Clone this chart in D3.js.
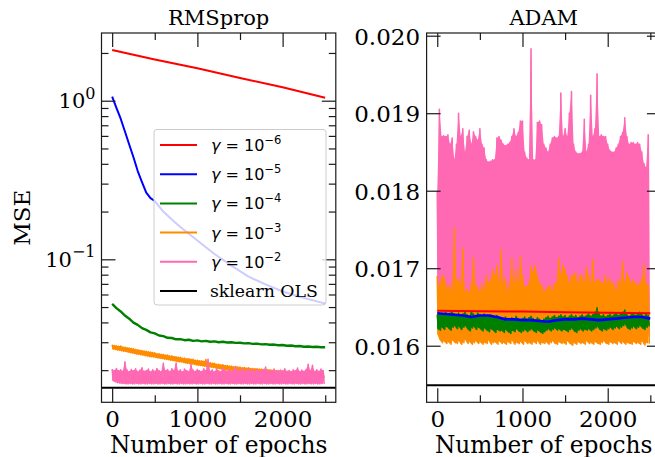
<!DOCTYPE html>
<html><head><meta charset="utf-8">
<script src="https://cdn.jsdelivr.net/npm/d3@7/dist/d3.min.js"></script>
<style>body{margin:0;background:#fff}svg{display:block}</style>
</head><body>
<svg id="c" width="655" height="457"></svg>
<script>
// ---------------- DATA ----------------
const titles = ["RMSprop", "ADAM"];
const legendLabels = ["-6", "-5", "-4", "-3", "-2"]; // exponents of gamma
const olsLabel = "sklearn OLS";
const colors = ["#ff0000", "#0000ff", "#008000", "#ff8c00", "#ff69b4"];
const xMajorTicks = [0, 1000, 2000];
const xMinorTicks = [500, 1500, 2500];
const yLogMajor = [1, 0.1];
const yLogMinor = [0.02,0.03,0.04,0.05,0.06,0.07,0.08,0.09,0.2,0.3,0.4,0.5,0.6,0.7,0.8,0.9,2];
const yLinTicks = [0.016, 0.017, 0.018, 0.019, 0.020];
const yLinLabels = ["0.016", "0.017", "0.018", "0.019", "0.020"];
const olsMSE = 0.01549;

// noisy series are given as upper / lower samples every 25 epochs
const epochs25 = d3.range(0, 2500, 25);

// RMSprop
const rmsRedEpochs = [0, 500, 1000, 1500, 2000, 2499];
const rmsRed = [2.09, 1.82, 1.60, 1.39, 1.215, 1.045];
const rmsBlueEpochs = [0,50,100,150,200,250,300,350,400,450,500,600,700,800,900,1000,1200,1400,1600,1800,2000,2200,2400,2499];
const rmsBlue = [1.06,0.90,0.77,0.64,0.53,0.44,0.36,0.307,0.263,0.243,0.233,0.200,0.178,0.160,0.145,0.1315,0.108,0.0912,0.0777,0.0695,0.0627,0.058,0.0543,0.0527];
const rmsGreenEpochs = [0,50,100,150,200,250,300,350,400,450,500,550,600,650,700,750,800,850,900,950,1000,1050,1100,1150,1200,1250,1300,1350,1400,1450,1500,1550,1600,1650,1700,1750,1800,1850,1900,1950,2000,2050,2100,2150,2200,2250,2300,2350,2400,2450,2499];
const rmsGreen = [0.0523,0.0492,0.0469,0.0442,0.0422,0.0399,0.0386,0.0368,0.0359,0.0346,0.0341,0.0331,0.0328,0.0320,0.0319,0.0313,0.0314,0.0309,0.0311,0.0306,0.0308,0.0304,0.0306,0.0302,0.0304,0.0300,0.0302,0.0299,0.0300,0.0297,0.0298,0.0295,0.0296,0.0293,0.0294,0.0291,0.0292,0.0289,0.0290,0.0287,0.0288,0.0285,0.0286,0.0283,0.0284,0.0281,0.0282,0.0280,0.0281,0.0279,0.0279];
const rmsOrangeHi = [
 0.0289,0.0286,0.0285,0.0283,0.0284,0.0280,0.0279,0.0277,0.0276,0.0274,
 0.0273,0.0270,0.0269,0.0267,0.0266,0.0264,0.0263,0.0261,0.0260,0.0258,
 0.0257,0.0254,0.0254,0.0252,0.0251,0.0249,0.0249,0.0246,0.0246,0.0244,
 0.0243,0.0241,0.0241,0.0238,0.0238,0.0236,0.0236,0.0234,0.0234,0.0231,
 0.0231,0.0229,0.0229,0.0227,0.0233,0.0223,0.0223,0.0221,0.0221,0.0218,
 0.0218,0.0216,0.0216,0.0214,0.0214,0.0212,0.0212,0.0210,0.0211,0.0209,
 0.0209,0.0207,0.0208,0.0206,0.0207,0.0205,0.0205,0.0204,0.0204,0.0203,
 0.0203,0.0202,0.0202,0.0201,0.0201,0.0200,0.0200,0.0199,0.0199,0.0198,
 0.0198,0.0197,0.0197,0.0196,0.0196,0.0195,0.0196,0.0194,0.0195,0.0193,
 0.0194,0.0193,0.0193,0.0192,0.0192,0.0191,0.0192,0.0190,0.0191,0.0190];
const rmsOrangeLo = [
 0.0272,0.0270,0.0268,0.0267,0.0265,0.0263,0.0262,0.0260,0.0258,0.0257,
 0.0255,0.0253,0.0252,0.0250,0.0249,0.0247,0.0246,0.0244,0.0243,0.0242,
 0.0241,0.0239,0.0238,0.0237,0.0235,0.0234,0.0233,0.0231,0.0230,0.0229,
 0.0227,0.0226,0.0225,0.0224,0.0222,0.0221,0.0220,0.0219,0.0218,0.0216,
 0.0215,0.0214,0.0213,0.0212,0.0210,0.0210,0.0209,0.0208,0.0207,0.0205,
 0.0204,0.0203,0.0202,0.0201,0.0200,0.0199,0.0198,0.0198,0.0197,0.0196,
 0.0196,0.0195,0.0194,0.0194,0.0193,0.0192,0.0192,0.0191,0.0191,0.0190,
 0.0190,0.0189,0.0189,0.0188,0.0188,0.0187,0.0187,0.0186,0.0186,0.0185,
 0.0185,0.0184,0.0184,0.0184,0.0183,0.0183,0.0182,0.0182,0.0182,0.0181,
 0.0181,0.0181,0.0180,0.0180,0.0180,0.0179,0.0179,0.0179,0.0178,0.0178];
const rmsPinkHi = [
 0.0203,0.0199,0.0205,0.0198,0.0201,0.0197,0.0226,0.0200,0.0196,0.0202,
 0.0198,0.0204,0.0196,0.0200,0.0207,0.0197,0.0199,0.0203,0.0195,0.0201,
 0.0197,0.0205,0.0199,0.0196,0.0221,0.0198,0.0202,0.0196,0.0204,0.0199,
 0.0222,0.0197,0.0201,0.0195,0.0203,0.0199,0.0196,0.0218,0.0200,0.0197,
 0.0202,0.0198,0.0196,0.0204,0.0199,0.0234,0.0197,0.0201,0.0195,0.0203,
 0.0198,0.0196,0.0206,0.0199,0.0197,0.0202,0.0195,0.0200,0.0211,0.0197,
 0.0199,0.0203,0.0196,0.0198,0.0205,0.0197,0.0200,0.0195,0.0202,0.0198,
 0.0196,0.0201,0.0209,0.0197,0.0199,0.0195,0.0203,0.0198,0.0196,0.0200,
 0.0197,0.0204,0.0196,0.0199,0.0195,0.0201,0.0198,0.0206,0.0196,0.0200,
 0.0197,0.0202,0.0218,0.0198,0.0215,0.0196,0.0201,0.0197,0.0203,0.0199];
const rmsPinkLo = [
 0.0172,0.0169,0.0167,0.0166,0.0165,0.0165,0.0164,0.0164,0.0165,0.0164,
 0.0164,0.0165,0.0164,0.0164,0.0165,0.0164,0.0164,0.0165,0.0164,0.0164,
 0.0165,0.0164,0.0164,0.0165,0.0164,0.0164,0.0165,0.0164,0.0164,0.0165,
 0.0164,0.0164,0.0165,0.0164,0.0164,0.0165,0.0164,0.0164,0.0165,0.0164,
 0.0164,0.0165,0.0164,0.0164,0.0165,0.0164,0.0164,0.0165,0.0164,0.0164,
 0.0165,0.0164,0.0164,0.0165,0.0164,0.0164,0.0165,0.0164,0.0164,0.0165,
 0.0164,0.0164,0.0165,0.0164,0.0164,0.0165,0.0164,0.0164,0.0165,0.0164,
 0.0164,0.0165,0.0164,0.0164,0.0165,0.0164,0.0164,0.0165,0.0164,0.0164,
 0.0165,0.0164,0.0164,0.0165,0.0164,0.0164,0.0165,0.0164,0.0164,0.0165,
 0.0164,0.0164,0.0165,0.0164,0.0164,0.0165,0.0164,0.0164,0.0165,0.0164];

// ADAM
const adamRedEpochs = [0, 500, 1000, 1500, 2000, 2499];
const adamRed = [0.01645, 0.016445, 0.01644, 0.016433, 0.016427, 0.01642];
const adamBlueEpochs = [0,100,200,300,400,500,600,700,800,900,1000,1100,1200,1300,1400,1500,1600,1700,1800,1900,2000,2100,2200,2300,2400,2499];
const adamBlue = [0.01642,0.01641,0.01640,0.01639,0.01637,0.01639,0.01639,0.01637,0.01634,0.01634,0.01633,0.01633,0.01632,0.01631,0.01633,0.01634,0.01634,0.01635,0.01634,0.01633,0.01634,0.01635,0.01636,0.01637,0.01637,0.01635];
const adamGreenHi = [
 0.01640,0.01642,0.01641,0.01639,0.01643,0.01640,0.01642,0.01644,0.01641,0.01640,
 0.01642,0.01639,0.01641,0.01643,0.01640,0.01638,0.01644,0.01641,0.01639,0.01642,
 0.01640,0.01638,0.01641,0.01639,0.01637,0.01640,0.01638,0.01636,0.01639,0.01635,
 0.01636,0.01634,0.01637,0.01635,0.01633,0.01636,0.01634,0.01638,0.01635,0.01633,
 0.01635,0.01637,0.01634,0.01636,0.01638,0.01635,0.01633,0.01636,0.01634,0.01632,
 0.01634,0.01636,0.01638,0.01635,0.01637,0.01639,0.01636,0.01638,0.01640,0.01637,
 0.01639,0.01636,0.01638,0.01640,0.01637,0.01639,0.01636,0.01638,0.01640,0.01637,
 0.01639,0.01641,0.01638,0.01640,0.01643,0.01649,0.01641,0.01638,0.01640,0.01637,
 0.01639,0.01641,0.01638,0.01640,0.01642,0.01639,0.01641,0.01643,0.01646,0.01640,
 0.01638,0.01640,0.01642,0.01639,0.01641,0.01643,0.01640,0.01638,0.01641,0.01639];
const adamGreenLo = [
 0.01622,0.01620,0.01624,0.01621,0.01625,0.01623,0.01620,0.01624,0.01626,0.01622,
 0.01625,0.01621,0.01624,0.01626,0.01622,0.01619,0.01623,0.01625,0.01621,0.01624,
 0.01622,0.01619,0.01623,0.01620,0.01618,0.01622,0.01620,0.01617,0.01621,0.01619,
 0.01620,0.01617,0.01621,0.01618,0.01616,0.01620,0.01618,0.01622,0.01619,0.01617,
 0.01619,0.01621,0.01618,0.01620,0.01622,0.01619,0.01617,0.01620,0.01618,0.01616,
 0.01618,0.01620,0.01622,0.01619,0.01621,0.01623,0.01620,0.01622,0.01619,0.01621,
 0.01620,0.01618,0.01621,0.01623,0.01619,0.01617,0.01620,0.01622,0.01619,0.01621,
 0.01620,0.01622,0.01619,0.01621,0.01623,0.01625,0.01621,0.01619,0.01622,0.01620,
 0.01622,0.01624,0.01621,0.01623,0.01625,0.01622,0.01624,0.01626,0.01628,0.01623,
 0.01621,0.01623,0.01625,0.01622,0.01624,0.01626,0.01623,0.01621,0.01624,0.01625];
const adamOrangeHi = [
 0.0169,0.01675,0.01687,0.01691,0.0168,0.01672,0.0168,0.0167,0.01752,0.01685,
 0.01685,0.01678,0.01726,0.0167,0.01672,0.01668,0.0168,0.01713,0.01676,0.01676,
 0.01668,0.0168,0.01672,0.01691,0.0168,0.01685,0.01698,0.0169,0.01704,0.0168,
 0.01724,0.0168,0.01687,0.0167,0.0168,0.01713,0.0168,0.01698,0.0168,0.01715,
 0.0169,0.01676,0.01676,0.0168,0.01702,0.01694,0.01704,0.0169,0.0168,0.01678,
 0.0167,0.01672,0.01676,0.01678,0.0167,0.0168,0.0168,0.01713,0.0169,0.01704,
 0.01698,0.0169,0.0168,0.0169,0.01691,0.01694,0.0168,0.0169,0.01691,0.0168,
 0.01702,0.0169,0.0168,0.01711,0.0168,0.01685,0.01685,0.01682,0.0168,0.01691,
 0.0168,0.01687,0.0168,0.0168,0.0167,0.01685,0.0168,0.01709,0.0168,0.01694,
 0.01687,0.01681,0.01685,0.0168,0.01678,0.0168,0.01685,0.01704,0.0168,0.01678];
const adamOrangeLo = [
 0.01615,0.01608,0.01604,0.01606,0.01603,0.01605,0.01602,0.01607,0.01604,0.01603,
 0.01606,0.01602,0.01604,0.01608,0.01603,0.01605,0.01602,0.01604,0.01606,0.01603,
 0.01605,0.01602,0.01604,0.01603,0.01607,0.01602,0.01604,0.01605,0.01602,0.01606,
 0.01603,0.01604,0.01602,0.01605,0.01603,0.01607,0.01602,0.01604,0.01603,0.01605,
 0.01602,0.01606,0.01603,0.01604,0.01602,0.01605,0.01603,0.01606,0.01602,0.01604,
 0.01603,0.01605,0.01602,0.01604,0.01606,0.01603,0.01602,0.01605,0.01603,0.01604,
 0.01602,0.01606,0.01603,0.01601,0.01604,0.01602,0.01605,0.01603,0.01604,0.01602,
 0.01606,0.01603,0.01604,0.01602,0.01605,0.01603,0.01602,0.01604,0.01606,0.01603,
 0.01602,0.01605,0.01603,0.01604,0.01602,0.01606,0.01603,0.01605,0.01602,0.01604,
 0.01603,0.01602,0.01605,0.01603,0.01604,0.01602,0.01606,0.01601,0.01604,0.01603];
const adamPinkHi = [
 0.0180,0.01905,0.0187,0.01871,0.0187,0.01872,0.0186,0.01868,0.0184,0.0186,
 0.0190,0.0187,0.0188,0.0185,0.0187,0.01878,0.0186,0.01876,0.0187,0.01865,
 0.0188,0.0186,0.01855,0.0184,0.01837,0.01838,0.0184,0.0184,0.01868,0.0187,
 0.01865,0.0186,0.01858,0.0186,0.01862,0.0187,0.0188,0.0187,0.01875,0.0189,
 0.0189,0.0185,0.01842,0.0184,0.01983,0.0184,0.0184,0.01888,0.0189,0.01885,
 0.0186,0.01855,0.0185,0.0186,0.01868,0.0187,0.01868,0.0187,0.01926,0.0187,
 0.0188,0.0187,0.0190,0.01928,0.0186,0.0185,0.01848,0.01848,0.0185,0.01892,
 0.0185,0.0186,0.01923,0.0187,0.0188,0.01951,0.0187,0.01872,0.0187,0.0187,
 0.0186,0.01852,0.0185,0.0185,0.01855,0.0186,0.0187,0.01875,0.01894,0.0187,
 0.0186,0.01862,0.01862,0.0186,0.01862,0.0186,0.0185,0.01835,0.0183,0.01872];
const adamPinkLo = [
 0.0166,0.0162,0.01615,0.0162,0.01612,0.01618,0.0161,0.01615,0.0162,0.01612,
 0.01615,0.0161,0.01618,0.01612,0.0162,0.01611,0.01615,0.01612,0.01618,0.0161,
 0.01614,0.0162,0.01611,0.01615,0.01612,0.01618,0.0161,0.01615,0.01612,0.01618,
 0.0161,0.01615,0.0162,0.01611,0.01615,0.01612,0.01618,0.0161,0.01615,0.01612,
 0.01618,0.0161,0.01615,0.01612,0.0162,0.01611,0.01615,0.01612,0.01618,0.0161,
 0.01615,0.01612,0.01618,0.0161,0.01615,0.0162,0.01611,0.01615,0.01612,0.01618,
 0.0161,0.01615,0.01612,0.01601,0.01615,0.0161,0.01618,0.01612,0.01615,0.0161,
 0.01618,0.01612,0.01615,0.0161,0.0162,0.01611,0.01615,0.01612,0.01618,0.0161,
 0.01615,0.01612,0.01618,0.0161,0.01615,0.0162,0.01611,0.01615,0.01612,0.01618,
 0.0161,0.01615,0.01612,0.01618,0.0161,0.01615,0.0162,0.01611,0.01615,0.01612];

// ---------------- DRAWING ----------------
const svg = d3.select("#c");
const SERIF = "'DejaVu Serif', serif";
const SANS = "'DejaVu Sans', sans-serif";
const INK = "#1a1a1a";
const TICK_FS = 23;

const axL = {x0: 101.5, x1: 335.8, y0: 33, y1: 402.3};
const axR = {x0: 426.6, x1: 660.9, y0: 33, y1: 402.3};
const xDomain = [-125, 2624];

const xL = d3.scaleLinear().domain(xDomain).range([axL.x0, axL.x1]);
const yL = d3.scaleLog().domain([0.012542, 2.6725]).range([axL.y1, axL.y0]);
const xR = d3.scaleLinear().domain(xDomain).range([axR.x0, axR.x1]);
const yR = d3.scaleLinear().domain([0.01527, 0.020035]).range([axR.y1, axR.y0]);

function zigzag(hi, lo) {
  const pts = [];
  epochs25.forEach((e, i) => { pts.push([e, hi[i]]); pts.push([e + 12.5, lo[i]]); });
  return pts;
}
function band(hi, lo) { return epochs25.map((e, i) => ({e, hi: hi[i], lo: lo[i]})); }
function pairs(ep, vals) { return ep.map((e, i) => [e, vals[i]]); }

function panel(ax, x, y, id, series) {
  svg.append("clipPath").attr("id", id)
    .append("rect").attr("x", ax.x0).attr("y", ax.y0)
    .attr("width", ax.x1 - ax.x0).attr("height", ax.y1 - ax.y0);
  const g = svg.append("g").attr("clip-path", `url(#${id})`);
  const line = d3.line().x(d => x(d[0])).y(d => y(d[1]));
  const area = d3.area().x(d => x(d.e)).y0(d => y(d.lo)).y1(d => y(d.hi));
  series.forEach(s => {
    if (s.band) {
      g.append("path").attr("d", area(s.band)).attr("fill", s.color).attr("stroke", "none");
    }
    g.append("path").attr("d", line(s.pts)).attr("fill", "none")
      .attr("stroke", s.color).attr("stroke-width", s.w || 2)
      .attr("stroke-linejoin", "round").attr("stroke-linecap", "butt");
  });
  g.append("line").attr("x1", ax.x0).attr("x2", ax.x1)
    .attr("y1", y(olsMSE)).attr("y2", y(olsMSE))
    .attr("stroke", "#000").attr("stroke-width", 2.2);
  return g;
}

function styleAxis(g) {
  g.select(".domain").remove();
  g.selectAll(".tick line").attr("stroke", INK).attr("stroke-width", 1.2);
  g.attr("font-family", SERIF).attr("font-size", TICK_FS);
  g.selectAll("text").attr("fill", "#000");
}

function frameAndTicks(ax, x, y, isLog) {
  const gb = svg.append("g").attr("transform", `translate(0,${ax.y1})`)
    .call(d3.axisBottom(x).tickValues(xMajorTicks).tickSizeInner(-14).tickSizeOuter(0).tickFormat(d3.format("d")));
  styleAxis(gb);
  gb.selectAll("text").attr("y", 25).attr("dy", 0);
  svg.append("g").attr("transform", `translate(0,${ax.y1})`)
    .call(d3.axisBottom(x).tickValues(xMinorTicks).tickSizeInner(-7).tickSizeOuter(0).tickFormat(""))
    .call(styleAxis);
  svg.append("g").attr("transform", `translate(0,${ax.y0})`)
    .call(d3.axisTop(x).tickValues(xMajorTicks).tickSizeInner(-14).tickSizeOuter(0).tickFormat(""))
    .call(styleAxis);
  svg.append("g").attr("transform", `translate(0,${ax.y0})`)
    .call(d3.axisTop(x).tickValues(xMinorTicks).tickSizeInner(-7).tickSizeOuter(0).tickFormat(""))
    .call(styleAxis);

  if (isLog) {
    svg.append("g").attr("transform", `translate(${ax.x0},0)`)
      .call(d3.axisLeft(y).tickValues(yLogMajor).tickSizeInner(-14).tickSizeOuter(0).tickFormat(""))
      .call(styleAxis);
    svg.append("g").attr("transform", `translate(${ax.x0},0)`)
      .call(d3.axisLeft(y).tickValues(yLogMinor).tickSizeInner(-7).tickSizeOuter(0).tickFormat(""))
      .call(styleAxis);
    svg.append("g").attr("transform", `translate(${ax.x1},0)`)
      .call(d3.axisRight(y).tickValues(yLogMajor).tickSizeInner(-14).tickSizeOuter(0).tickFormat(""))
      .call(styleAxis);
    svg.append("g").attr("transform", `translate(${ax.x1},0)`)
      .call(d3.axisRight(y).tickValues(yLogMinor).tickSizeInner(-7).tickSizeOuter(0).tickFormat(""))
      .call(styleAxis);
    yLogMajor.forEach(v => {
      const k = Math.round(Math.log10(v));
      const t = svg.append("text").attr("x", ax.x0 - 6).attr("y", y(v) + 7.5)
        .attr("text-anchor", "end").attr("font-family", SERIF).attr("font-size", 21).attr("fill", "#000");
      t.append("tspan").text("10");
      t.append("tspan").attr("dy", -9.5).attr("font-size", 16).text(k === 0 ? "0" : "\u2212" + Math.abs(k));
    });
  } else {
    const gl = svg.append("g").attr("transform", `translate(${ax.x0},0)`)
      .call(d3.axisLeft(y).tickValues(yLinTicks).tickSizeInner(-14).tickSizeOuter(0)
        .tickFormat((d, i) => yLinLabels[i]));
    styleAxis(gl);
    gl.selectAll("text").attr("x", -6.5).attr("dy", 0).attr("y", 8.5);
    svg.append("g").attr("transform", `translate(${ax.x1},0)`)
      .call(d3.axisRight(y).tickValues(yLinTicks).tickSizeInner(-14).tickSizeOuter(0).tickFormat(""))
      .call(styleAxis);
  }
  svg.append("rect").attr("x", ax.x0).attr("y", ax.y0)
    .attr("width", ax.x1 - ax.x0).attr("height", ax.y1 - ax.y0)
    .attr("fill", "none").attr("stroke", INK).attr("stroke-width", 1.2);
}

// Left panel: RMSprop
panel(axL, xL, yL, "clipL", [
  {pts: pairs(rmsRedEpochs, rmsRed), color: colors[0]},
  {pts: pairs(rmsBlueEpochs, rmsBlue), color: colors[1]},
  {pts: pairs(rmsGreenEpochs, rmsGreen), color: colors[2], w: 2.4},
  {pts: zigzag(rmsOrangeHi, rmsOrangeLo), band: band(rmsOrangeHi, rmsOrangeLo), color: colors[3], w: 1.6},
  {pts: zigzag(rmsPinkHi, rmsPinkLo), band: band(rmsPinkHi, rmsPinkLo), color: colors[4], w: 1.6}
]);
// Right panel: ADAM (drawn from the largest rate down)
panel(axR, xR, yR, "clipR", [
  {pts: zigzag(adamPinkHi, adamPinkLo), band: band(adamPinkHi, adamPinkLo), color: colors[4], w: 1.6},
  {pts: zigzag(adamOrangeHi, adamOrangeLo), band: band(adamOrangeHi, adamOrangeLo), color: colors[3], w: 1.6},
  {pts: zigzag(adamGreenHi, adamGreenLo), band: band(adamGreenHi, adamGreenLo), color: colors[2], w: 1.6},
  {pts: pairs(adamBlueEpochs, adamBlue), color: colors[1], w: 2.6},
  {pts: pairs(adamRedEpochs, adamRed), color: colors[0], w: 2}
]);

frameAndTicks(axL, xL, yL, true);
frameAndTicks(axR, xR, yR, false);

// titles
[[axL, titles[0]], [axR, titles[1]]].forEach(([ax, t]) => {
  svg.append("text").attr("x", (ax.x0 + ax.x1) / 2).attr("y", 25)
    .attr("text-anchor", "middle").attr("font-family", SERIF).attr("font-size", 21).text(t);
});
// x labels
[axL, axR].forEach(ax => {
  svg.append("text").attr("x", (ax.x0 + ax.x1) / 2).attr("y", 452.5)
    .attr("text-anchor", "middle").attr("font-family", SERIF).attr("font-size", 23.3).text("Number of epochs");
});
// y label
svg.append("text").attr("transform", `translate(30,${(axL.y0 + axL.y1) / 2}) rotate(-90)`)
  .attr("text-anchor", "middle").attr("font-family", SERIF).attr("font-size", 23).text("MSE");

// legend
const lg = svg.append("g");
lg.append("rect").attr("x", 154).attr("y", 129.5).attr("width", 172).attr("height", 175.5)
  .attr("rx", 3).attr("fill", "#fff").attr("fill-opacity", 0.8)
  .attr("stroke", "#cccccc").attr("stroke-width", 1);
const rowY = i => 145 + i * 29.2;
legendLabels.forEach((ex, i) => {
  lg.append("line").attr("x1", 160).attr("x2", 197).attr("y1", rowY(i)).attr("y2", rowY(i))
    .attr("stroke", colors[i]).attr("stroke-width", 2);
  const t = lg.append("text").attr("x", 211).attr("y", rowY(i) + 6)
    .attr("font-family", SANS).attr("font-size", 16).attr("fill", "#000");
  t.append("tspan").attr("font-style", "italic").text("\u03b3");
  t.append("tspan").text(" = 10");
  t.append("tspan").attr("dy", -7).attr("font-size", 11.5).text(ex.replace("-", "\u2212"));
});
lg.append("line").attr("x1", 160).attr("x2", 197).attr("y1", rowY(5)).attr("y2", rowY(5))
  .attr("stroke", "#000").attr("stroke-width", 2);
lg.append("text").attr("x", 210).attr("y", rowY(5) + 6)
  .attr("font-family", SERIF).attr("font-size", 17.3).attr("fill", "#000").text(olsLabel);
</script>
</body></html>
